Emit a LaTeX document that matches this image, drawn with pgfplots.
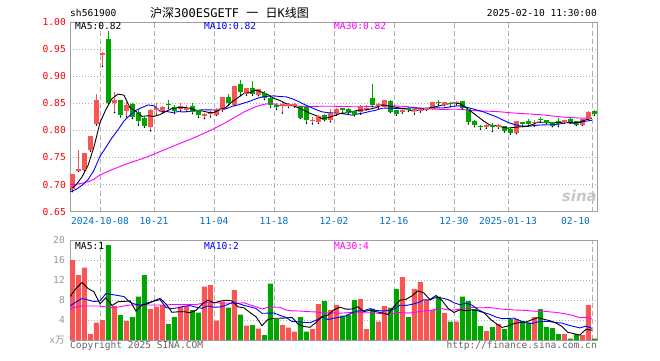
\documentclass[border=0pt]{standalone}
\usepackage{pgfplots}
\pgfplotsset{compat=1.18}
\usepackage{pgfplotstable}
\usepackage{fontspec}
\setmainfont{DejaVu Sans Mono}
\newfontfamily\mono{DejaVu Sans Mono}
\newfontfamily\cjk{Noto Sans CJK SC}
\newfontfamily\sinafont{DejaVu Sans}
\definecolor{upc}{RGB}{250,85,85}
\definecolor{dnc}{RGB}{0,165,0}
\definecolor{framec}{RGB}{160,160,160}
\definecolor{gridc}{RGB}{175,175,175}
\definecolor{datec}{RGB}{0,110,200}
\definecolor{volt}{RGB}{150,150,150}
\definecolor{cpt}{RGB}{100,100,100}
\definecolor{mablue}{RGB}{0,0,255}
\definecolor{mamag}{RGB}{255,0,255}
\newcommand\sz{\fontsize{9.6}{10}\selectfont}

\pgfplotstableread{
i o h l c v
0 0.693 0.720 0.687 0.719 16.0
1 0.726 0.764 0.725 0.728 13.0
2 0.727 0.759 0.726 0.758 14.5
3 0.764 0.789 0.762 0.788 1.2
4 0.812 0.867 0.810 0.856 3.5
5 0.940 0.945 0.918 0.942 4.0
7 0.851 0.870 0.833 0.856 6.8
9 0.837 0.853 0.825 0.846 3.8
13 0.807 0.839 0.799 0.836 6.2
14 0.838 0.851 0.828 0.840 6.7
15 0.837 0.845 0.834 0.843 7.0
18 0.840 0.851 0.836 0.845 6.7
19 0.839 0.846 0.835 0.841 6.8
22 0.828 0.832 0.822 0.829 10.7
23 0.831 0.835 0.825 0.832 11.0
24 0.830 0.841 0.828 0.839 3.9
25 0.838 0.861 0.836 0.860 7.7
27 0.847 0.882 0.846 0.881 10.0
29 0.869 0.879 0.865 0.878 2.9
31 0.866 0.877 0.864 0.875 2.3
35 0.846 0.851 0.832 0.847 3.0
36 0.846 0.851 0.842 0.847 2.5
37 0.846 0.850 0.843 0.847 1.7
40 0.818 0.824 0.812 0.819 2.2
41 0.816 0.828 0.813 0.826 7.2
43 0.820 0.839 0.816 0.831 6.0
44 0.831 0.841 0.828 0.839 7.0
48 0.835 0.847 0.830 0.845 8.2
49 0.840 0.847 0.838 0.841 2.2
51 0.846 0.851 0.841 0.847 3.7
52 0.845 0.857 0.844 0.856 6.8
55 0.835 0.839 0.832 0.836 12.6
57 0.837 0.842 0.830 0.838 10.2
58 0.837 0.841 0.834 0.838 11.6
59 0.839 0.842 0.837 0.841 8.0
60 0.841 0.852 0.840 0.851 6.0
62 0.848 0.853 0.846 0.852 5.4
64 0.851 0.854 0.847 0.852 3.7
69 0.808 0.812 0.804 0.809 1.8
71 0.808 0.812 0.804 0.809 3.2
74 0.796 0.818 0.794 0.816 4.2
77 0.814 0.819 0.808 0.815 4.6
82 0.815 0.819 0.813 0.818 1.2
85 0.811 0.821 0.809 0.820 1.0
86 0.822 0.836 0.820 0.833 7.0
}\upT

\pgfplotstableread{
i o h l c v
6 0.967 0.983 0.849 0.851 19.0
8 0.855 0.856 0.825 0.830 5.0
10 0.847 0.850 0.822 0.826 4.6
11 0.833 0.838 0.810 0.818 8.7
12 0.822 0.825 0.806 0.809 13.0
16 0.848 0.856 0.841 0.847 3.2
17 0.842 0.847 0.831 0.836 4.6
20 0.844 0.851 0.831 0.835 6.0
21 0.836 0.837 0.824 0.830 5.5
26 0.860 0.868 0.847 0.851 6.5
28 0.884 0.893 0.865 0.871 5.1
30 0.878 0.892 0.865 0.868 3.0
32 0.869 0.872 0.857 0.861 1.0
33 0.859 0.862 0.843 0.847 11.3
34 0.846 0.850 0.839 0.845 4.2
38 0.844 0.845 0.822 0.824 4.6
39 0.842 0.844 0.813 0.821 1.7
42 0.827 0.830 0.818 0.820 7.8
45 0.840 0.842 0.832 0.839 4.9
46 0.838 0.841 0.832 0.833 5.1
47 0.835 0.836 0.827 0.830 8.0
50 0.859 0.886 0.844 0.847 6.3
53 0.854 0.856 0.833 0.835 6.5
54 0.836 0.837 0.828 0.832 10.2
56 0.840 0.843 0.835 0.839 4.6
61 0.852 0.856 0.847 0.851 8.7
63 0.850 0.853 0.844 0.849 3.7
65 0.854 0.855 0.840 0.842 8.7
66 0.838 0.839 0.812 0.816 7.8
67 0.816 0.820 0.807 0.810 6.2
68 0.808 0.810 0.802 0.807 2.8
70 0.809 0.813 0.798 0.808 2.6
72 0.807 0.808 0.797 0.799 2.2
73 0.802 0.804 0.793 0.796 4.2
75 0.814 0.816 0.807 0.813 3.8
76 0.817 0.821 0.808 0.812 3.5
78 0.821 0.825 0.815 0.820 6.2
79 0.819 0.820 0.813 0.815 2.6
80 0.815 0.816 0.807 0.809 2.4
81 0.816 0.822 0.807 0.813 1.2
83 0.821 0.822 0.813 0.816 0.3
84 0.817 0.818 0.809 0.811 1.2
87 0.835 0.838 0.828 0.832 0.3
}\dnT

\pgfplotstableread{
i m5 m10 m30 v5 v10 v30
0 .6902 .6866 .6999 8.7 6.8 6.2
1 .6992 .6911 .7006 10.3 7.6 6.6
2 .7142 .6986 .7024 11.5 8.3 6.8
3 .7352 .7091 .7051 10.3 8.0 6.8
4 .7698 .7264 .7101 9.64 7.7 6.8
5 .8144 .7523 .7179 7.24 7.8 6.8
6 .8390 .7691 .7227 8.44 9.3 6.6
7 .8586 .7864 .7277 6.90 9.1 6.5
8 .8670 .8011 .7318 7.66 8.9 6.6
9 .8650 .8174 .7365 7.72 8.68 6.8
10 .8418 .8281 .7404 7.84 7.54 7.0
11 .8352 .8371 .7441 5.78 7.11 7.0
12 .8258 .8422 .7476 7.02 6.96 7.0
13 .8270 .8470 .7519 7.26 7.46 7.0
14 .8258 .8454 .7563 7.84 7.78 7.0
15 .8292 .8355 .7609 8.32 8.08 7.0
16 .8350 .8351 .7655 7.22 6.50 7.0
17 .8404 .8331 .7699 5.54 6.28 7.1
18 .8422 .8346 .7745 5.64 6.45 7.1
19 .8424 .8341 .7790 5.66 6.75 7.1
20 .8408 .8350 .7832 5.46 6.89 7.1
21 .8374 .8362 .7881 5.92 6.57 7.1
22 .8360 .8382 .7930 7.14 6.34 7.3
23 .8334 .8378 .7980 8.00 6.82 7.5
24 .8330 .8377 .8032 7.42 6.54 7.5
25 .8380 .8394 .8091 7.76 6.61 7.4
26 .8422 .8398 .8147 7.96 6.94 7.4
27 .8526 .8443 .8213 7.82 7.48 7.3
28 .8604 .8469 .8275 6.64 7.32 7.35
29 .8682 .8506 .8340 6.44 6.93 7.45
30 .8698 .8539 .8390 5.50 6.63 7.02
31 .8746 .8584 .8439 4.66 6.31 6.66
32 .8706 .8616 .8473 2.86 5.34 6.21
33 .8658 .8631 .8493 4.10 5.37 6.55
34 .8592 .8637 .8489 4.36 5.40 6.57
35 .8550 .8624 .8458 4.36 4.93 6.54
36 .8494 .8620 .8456 4.40 4.53 5.99
37 .8466 .8586 .8453 4.54 3.70 5.82
38 .8420 .8539 .8451 3.20 3.65 5.81
39 .8372 .8482 .8443 2.70 3.53 5.74
40 .8316 .8433 .8441 2.54 3.45 5.66
41 .8274 .8384 .8443 3.48 3.94 5.61
42 .8220 .8343 .8447 4.70 4.62 5.43
43 .8234 .8327 .8445 4.98 4.09 5.43
44 .8270 .8321 .8445 6.04 4.37 5.44
45 .8310 .8313 .8444 6.58 4.56 5.37
46 .8324 .8299 .8439 6.16 4.82 5.43
47 .8344 .8282 .8437 6.20 5.45 5.54
48 .8372 .8303 .8437 6.64 5.81 5.59
49 .8376 .8323 .8437 5.68 5.86 5.44
50 .8392 .8351 .8441 5.96 6.27 5.45
51 .8420 .8372 .8447 5.68 5.92 5.39
52 .8472 .8408 .8456 5.44 5.82 5.26
53 .8452 .8412 .8457 5.10 5.87 5.11
54 .8434 .8405 .8454 6.70 6.19 5.32
55 .8412 .8402 .8446 7.96 6.96 5.48
56 .8396 .8408 .8442 8.14 6.91 5.42
57 .8360 .8416 .8428 8.82 7.13 5.43
58 .8366 .8409 .8417 9.84 7.47 5.64
59 .8384 .8409 .8405 9.40 8.05 5.81
60 .8414 .8413 .8399 8.08 8.02 5.91
61 .8438 .8417 .8391 8.90 8.52 6.13
62 .8466 .8413 .8388 7.94 8.38 6.27
63 .8488 .8427 .8389 6.36 8.10 6.02
64 .8510 .8447 .8391 5.50 7.45 6.00
65 .8492 .8453 .8389 6.04 7.06 6.19
66 .8422 .8430 .8379 5.86 7.38 6.37
67 .8338 .8402 .8367 6.02 6.98 6.52
68 .8254 .8371 .8361 5.84 6.10 6.46
69 .8168 .8339 .8357 5.46 5.48 6.46
70 .8100 .8296 .8353 4.24 5.14 6.48
71 .8086 .8254 .8348 3.32 4.59 6.34
72 .8064 .8201 .8341 2.52 4.27 6.16
73 .8042 .8148 .8329 2.80 4.32 6.10
74 .8056 .8112 .8321 3.28 4.37 6.00
75 .8066 .8083 .8313 3.52 3.88 5.97
76 .8072 .8079 .8306 3.58 3.45 5.91
77 .8104 .8084 .8301 4.06 3.29 5.80
78 .8152 .8097 .8292 4.46 3.63 5.73
79 .8150 .8103 .8284 4.14 3.71 5.75
80 .8142 .8104 .8271 3.86 3.69 5.62
81 .8144 .8108 .8260 3.40 3.49 5.53
82 .8150 .8127 .8247 2.72 3.39 5.35
83 .8142 .8147 .8241 1.54 3.00 5.14
84 .8134 .8142 .8234 1.26 2.70 4.84
85 .8156 .8149 .8228 0.98 2.42 4.45
86 .8196 .8170 .8226 2.14 2.77 4.53
87 .8224 .8187 .8224 1.96 2.34 4.20
}\maT

\pgfplotsset{
  kbase/.style={scale only axis, width=527.7pt, xmin=-0.417, xmax=87.55,
    axis line style={draw=framec, line width=1pt},
    major tick length=0pt, tick style={draw=none},
    xtick={4.583,13.583,23.583,33.583,43.583,53.583,63.583,72.583,86.583},
    xmajorgrids, ymajorgrids,
    x grid style={gridc, line width=0.8pt, dash pattern=on 5pt off 3pt},
    y grid style={gridc, line width=0.8pt, dash pattern=on 1pt off 2pt},
    ticklabel style={font=\mono\sz, inner sep=0pt},
  },
  nomark/.style={only marks, mark=*, mark size=0.5pt, mark options={draw=none, fill=none}},
}

\begin{document}
\begin{tikzpicture}
\path[use as bounding box] (0,0) rectangle (660pt,360pt);

% ---------- price panel ----------
\begin{axis}[kbase, at={(70pt,148.3pt)}, anchor=south west, height=189.7pt,
  ymin=0.65, ymax=1.00,
  ytick={0.65,0.70,0.75,0.80,0.85,0.90,0.95,1.00},
  yticklabels={0.65,0.70,0.75,0.80,0.85,0.90,0.95,1.00},
  yticklabel style={text=red, xshift=-4pt},
  xticklabels={2024-10-08,10-21,11-04,11-18,12-02,12-16,12-30,2025-01-13,\makebox[0pt][r]{02-10\hspace{2pt}}},
  xticklabel style={text=datec, yshift=-5.5pt},
]
% wicks
\addplot[nomark, error bars/y dir=plus, error bars/y explicit, error bars/error mark=none, error bars/error bar style={line width=1pt, draw=upc, solid}]
  table[x=i, y=l, y error expr=\thisrow{h}-\thisrow{l}] {\upT};
\addplot[nomark, error bars/y dir=plus, error bars/y explicit, error bars/error mark=none, error bars/error bar style={line width=1pt, draw=dnc, solid}]
  table[x=i, y=l, y error expr=\thisrow{h}-\thisrow{l}] {\dnT};
% bodies
\addplot[only marks, mark=-, mark size=2.5pt, mark options={line width=1pt, draw=upc, solid}, error bars/y dir=plus, error bars/y explicit, error bars/error mark=none, error bars/error bar style={line width=5pt, draw=upc, solid}]
  table[x=i, y=o, y error expr=\thisrow{c}-\thisrow{o}] {\upT};
\addplot[only marks, mark=-, mark size=2.5pt, mark options={line width=1pt, draw=upc, solid}]
  table[x=i, y=c] {\upT};
\addplot[only marks, mark=-, mark size=2.5pt, mark options={line width=1pt, draw=dnc, solid}, error bars/y dir=plus, error bars/y explicit, error bars/error mark=none, error bars/error bar style={line width=5pt, draw=dnc, solid}]
  table[x=i, y=c, y error expr=\thisrow{o}-\thisrow{c}] {\dnT};
\addplot[only marks, mark=-, mark size=2.5pt, mark options={line width=1pt, draw=dnc, solid}]
  table[x=i, y=o] {\dnT};
% moving averages
\addplot[mamag, line width=0.9pt, mark=none] table[x expr=\thisrow{i}-0.417, y=m30] {\maT};
\addplot[mablue, line width=0.9pt, mark=none] table[x expr=\thisrow{i}-0.417, y=m10] {\maT};
\addplot[black, line width=0.9pt, mark=none] table[x expr=\thisrow{i}-0.417, y=m5] {\maT};
\end{axis}

% ---------- volume panel ----------
\begin{axis}[kbase, at={(70pt,20pt)}, anchor=south west, height=100pt,
  ymin=0, ymax=20,
  ytick={0,4,8,12,16,20},
  yticklabels={x{\cjk 万},4,8,12,16,20},
  yticklabel style={text=volt, xshift=-5pt},
  xticklabels={},
]
\addplot[ybar, bar width=0.833, bar shift=0pt, fill=upc, draw=none] table[x=i, y=v] {\upT};
\addplot[ybar, bar width=0.833, bar shift=0pt, fill=dnc, draw=none] table[x=i, y=v] {\dnT};
\addplot[mamag, line width=0.9pt, mark=none] table[x expr=\thisrow{i}-0.417, y=v30] {\maT};
\addplot[mablue, line width=0.9pt, mark=none] table[x expr=\thisrow{i}-0.417, y=v10] {\maT};
\addplot[black, line width=0.9pt, mark=none] table[x expr=\thisrow{i}-0.417, y=v5] {\maT};
\end{axis}

% ---------- texts ----------
\begin{scope}[every node/.style={inner sep=0pt, font=\mono\sz}]
\node[anchor=west] at (70pt,347pt) {sh561900};
\node[anchor=west, font=\mono\fontsize{12}{12}\selectfont] at (150pt,347pt) {{\cjk 沪深}300ESGETF {\cjk 一} {\cjk 日}K{\cjk 线图}};
\node[anchor=east] at (597pt,347pt) {2025-02-10 11:30:00};
\node[anchor=west] at (75pt,333.5pt) {MA5:0.82};
\node[anchor=west, text=mablue] at (204pt,333.5pt) {MA10:0.82};
\node[anchor=west, text=mamag] at (334pt,333.5pt) {MA30:0.82};
\node[anchor=west] at (75pt,113.5pt) {MA5:1};
\node[anchor=west, text=mablue] at (204pt,113.5pt) {MA10:2};
\node[anchor=west, text=mamag] at (334pt,113.5pt) {MA30:4};
\node[anchor=west, text=cpt] at (70pt,14.5pt) {Copyright 2025 SINA.COM};
\node[anchor=east, text=cpt] at (597pt,14.5pt) {http://finance.sina.com.cn};
\node[anchor=east, text=black!22, font=\sinafont\bfseries\itshape\fontsize{15}{15}\selectfont] at (597pt,164pt) {sina};
\end{scope}
\end{tikzpicture}
\end{document}
